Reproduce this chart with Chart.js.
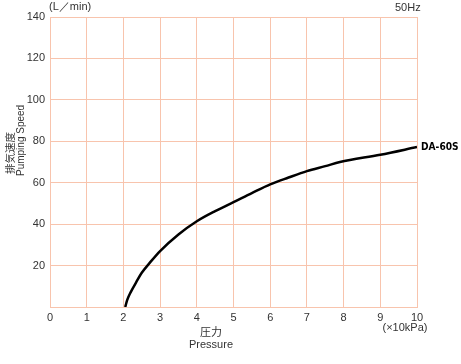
<!DOCTYPE html>
<html>
<head>
<meta charset="utf-8">
<script src="https://cdn.jsdelivr.net/npm/chart.js@4/dist/chart.umd.min.js"></script>
<style>
  html, body { margin: 0; padding: 0; background: #fff; }
  #chart { display: block; }
</style>
</head>
<body>
<canvas id="chart" width="461" height="364"></canvas>
<script>
// pressure (x10kPa) vs pumping speed (L/min)
const pressure = [2.05, 2.1, 2.2, 2.35, 2.5, 2.75, 3, 3.5, 4, 4.5, 5, 5.5, 6, 6.5, 7, 7.5, 7.9, 9, 10];
const speed    = [0, 3.2, 7.2, 12, 16.5, 22, 27, 35, 41.4, 46.3, 50.6, 55, 59.2, 62.5, 65.6, 68, 70, 73.5, 77.2];
const xTicks = [0, 1, 2, 3, 4, 5, 6, 7, 8, 9, 10];
const yTicks = [20, 40, 60, 80, 100, 120, 140];
const seriesName = 'DA-60S';

const gridColor = '#f8c4ad';
const textColor = '#333';
const font = 'Arial, "Liberation Sans", Helvetica, sans-serif';

const labels = {
    id: 'labels',
    afterDraw(chart) {
        const ctx = chart.ctx;
        const area = chart.chartArea;
        const yS = chart.scales.y;
        ctx.save();
        ctx.fillStyle = textColor;
        ctx.textBaseline = 'middle';
        ctx.font = '11px ' + font;

        ctx.textAlign = 'left';
        ctx.fillText('(L／min)', 49, 7);
        ctx.fillText('50Hz', 395, 8);

        ctx.textAlign = 'center';
        ctx.fillText('(×10kPa)', 405, 328);
        ctx.font = '11px "Noto Sans CJK JP", sans-serif';
        ctx.fillText('圧力', 211, 332);
        ctx.font = '11px ' + font;
        ctx.fillText('Pressure', 211, 345);

        // y axis title, rotated
        ctx.save();
        ctx.translate(10, 174);
        ctx.rotate(-Math.PI / 2);
        ctx.textAlign = 'left';
        ctx.font = '10.5px "Noto Sans CJK JP", sans-serif';
        ctx.fillText('排気速度', 0, 0);
        ctx.restore();
        ctx.save();
        ctx.translate(21, 176);
        ctx.rotate(-Math.PI / 2);
        ctx.textAlign = 'left';
        ctx.font = '10px ' + font;
        ctx.fillText('Pumping Speed', 0, 0);
        ctx.restore();

        // series label at the end of the curve
        const last = speed[speed.length - 1];
        ctx.save();
        ctx.fillStyle = '#000';
        ctx.textAlign = 'left';
        ctx.font = 'bold 11px "DejaVu Sans Condensed", sans-serif';
        ctx.translate(area.right + 4, yS.getPixelForValue(last));
        ctx.scale(0.92, 1);
        ctx.fillText(seriesName, 0, 0);
        ctx.restore();
        ctx.restore();
    }
};

new Chart(document.getElementById('chart'), {
    type: 'line',
    data: {
        datasets: [{
            label: seriesName,
            data: pressure.map((p, i) => ({ x: p, y: speed[i] })),
            borderColor: '#000',
            borderWidth: 2.5,
            pointRadius: 0,
            fill: false,
            cubicInterpolationMode: 'monotone'
        }]
    },
    options: {
        responsive: false,
        animation: false,
        layout: { padding: { top: 17, right: 44, left: 0, bottom: 0 } },
        plugins: {
            legend: { display: false },
            tooltip: { enabled: false }
        },
        scales: {
            x: {
                type: 'linear',
                min: 0,
                max: 10,
                afterBuildTicks: s => { s.ticks = xTicks.map(v => ({ value: v })); },
                ticks: { color: textColor, font: { size: 11, family: font }, padding: 4, maxRotation: 0 },
                grid: { color: gridColor, drawTicks: false },
                border: { color: gridColor },
                afterFit: s => { s.height = 57; }
            },
            y: {
                min: 0,
                max: 140,
                afterBuildTicks: s => { s.ticks = [0].concat(yTicks).map(v => ({ value: v })); },
                ticks: {
                    color: textColor,
                    font: { size: 11, family: font },
                    padding: 5,
                    callback: v => (v === 0 ? '' : v)
                },
                grid: { color: gridColor, drawTicks: false },
                border: { color: gridColor },
                afterFit: s => { s.width = 50; }
            }
        }
    },
    plugins: [labels]
});
</script>
</body>
</html>
